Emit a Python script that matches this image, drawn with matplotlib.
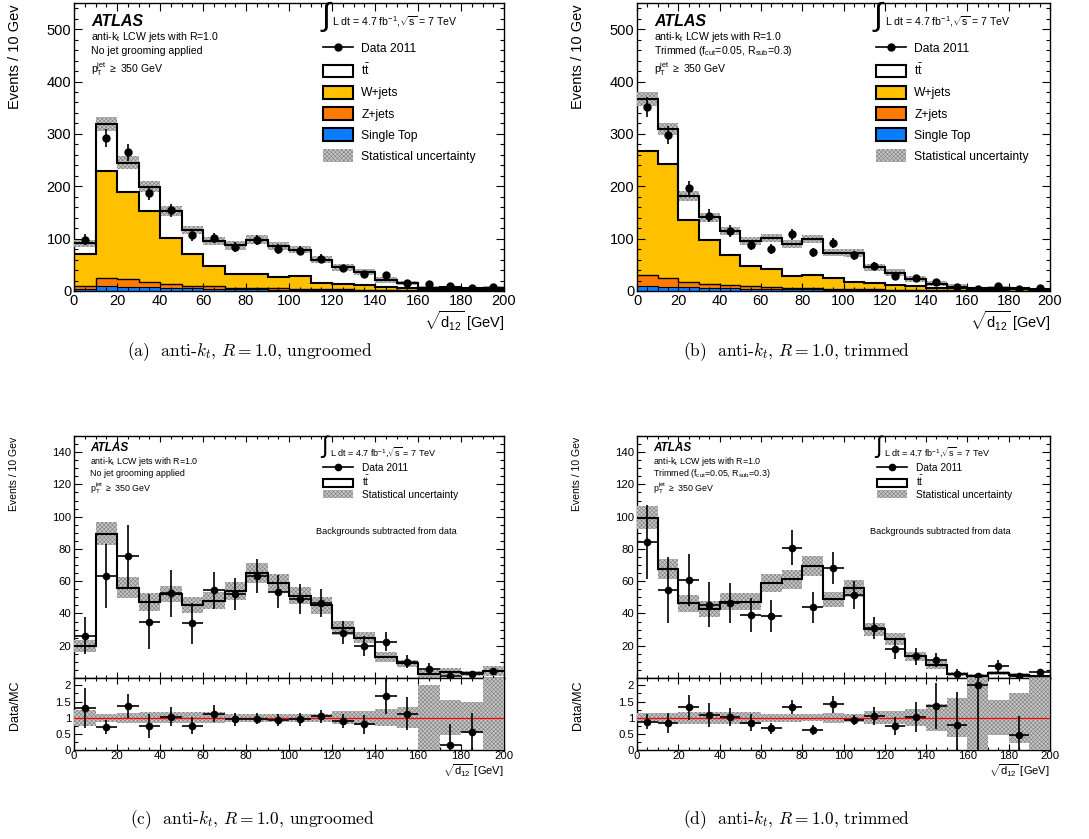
import numpy as np
import matplotlib.pyplot as plt
from matplotlib.patches import Patch
from matplotlib.lines import Line2D
from matplotlib.ticker import MultipleLocator, FixedLocator

plt.rcParams['font.family'] = ['Liberation Sans', 'DejaVu Sans']
plt.rcParams['mathtext.fontset'] = 'custom'
plt.rcParams['mathtext.rm'] = 'Liberation Sans'
plt.rcParams['mathtext.it'] = 'Liberation Sans:italic'
plt.rcParams['mathtext.bf'] = 'Liberation Sans:bold'
plt.rcParams['hatch.linewidth'] = 0.4

W, H = 1089, 839

# sqrt(d12) binning, 10 GeV bins
edges = np.arange(0, 201, 10)
centers = edges[:-1] + 5

# ---- top row: stacked MC + data, events / 10 GeV
# (a) ungroomed
ttbar_ungr = [20, 89.5, 56, 47, 52, 45, 48, 54, 65, 59, 51, 45, 31, 25, 13, 9, 2.5, 4, 3, 4.5]
wjets_ungr = [62, 205, 166, 134, 87, 61, 38, 27, 27, 22, 24, 12, 11, 10, 6, 4.5, 3, 2, 1.5, 1.5]
zjets_ungr = [5, 16, 15, 10, 8, 5, 5, 3, 3, 3, 2, 1.5, 2, 1, 1, 1, 0.5, 0.5, 0.2, 0.2]
stop_ungr = [4, 9, 8, 8, 6, 5, 4, 3, 3, 2, 2, 1.5, 1, 1, 1, 0.5, 0.5, 0.5, 0.3, 0.3]
mcstat_ungr = [7, 13, 12, 10.5, 10, 8, 8, 8, 8, 7, 6.5, 7, 7, 5.7, 6, 4, 4, 3, 3, 3]
data_ungr = [98, 292, 265, 187, 154, 106, 101, 84, 97, 80, 77, 62, 43, 32, 31, 15, 13, 9, 6, 7]
data_err_ungr = [10, 17, 16, 14, 12, 10, 10, 9, 10, 9, 9, 8, 7, 6, 6, 4, 4, 3, 2.5, 2.6]

# (b) trimmed
ttbar_trim = [99.4, 67.4, 46.2, 42.7, 47.2, 47.2, 58.8, 61.2, 69.5, 48.9, 55.5, 30.3, 24.1, 13.4, 8, 2.5, 1.4, 3.1, 1.9, 1]
wjets_trim = [237, 217, 117, 84, 57, 39, 35, 22, 25, 20, 14, 12, 9, 8, 4.5, 5, 3, 2, 2.5, 1.5]
zjets_trim = [20, 17, 11, 8, 6, 5, 3, 3, 2, 2, 1, 1.5, 1, 1, 0.5, 0.5, 0.5, 0.5, 0.2, 0.2]
stop_trim = [10, 8, 7, 6, 5, 4, 4, 3, 3, 2, 2, 1.5, 1, 1, 1, 0.5, 0.5, 0.5, 0.3, 0.3]
mcstat_trim = [13.7, 11.8, 9.6, 8, 7.7, 7.3, 7.7, 8, 7.3, 7, 7, 6.4, 6.4, 5.4, 5.4, 4, 3, 3, 2, 2]
data_trim = [352, 298, 196, 144, 115, 87, 80, 108, 74, 92, 68, 48, 29, 24, 17, 8, 4, 10, 3, 5]
data_err_trim = [19, 17, 14, 12, 11, 9, 9, 10, 9, 10, 8, 7, 5.4, 5, 4, 3, 2, 3, 1.7, 2.2]

# ---- bottom row: backgrounds subtracted from data
sub_ungr = [26.2, 63.3, 75.7, 35, 52.4, 33.8, 54.4, 52, 63.3, 53.6, 48.9, 46.6, 28.2, 19.8, 22.5, 10.1, 5.6, 1.4, 2.3, 4.3]
sub_err_ungr = [11.5, 20, 19, 17, 14.5, 12.5, 11.5, 10, 10.7, 10, 9.4, 8.5, 7.2, 6.2, 6, 4, 3.5, 2, 1.5, 2]
ttstat_ungr = [3.6, 7.3, 6.4, 5.4, 4.8, 5, 5.2, 5.8, 6, 5.5, 5.2, 5.2, 4.1, 3.6, 3, 2.4, 2.5, 2, 1.5, 3]
ratio_ungr = [1.29, 0.72, 1.36, 0.75, 1.03, 0.75, 1.13, 0.95, 0.97, 0.93, 0.95, 1.05, 0.90, 0.79, 1.67, 1.13, np.nan, 0.15, 0.55, np.nan]
ratio_err_ungr = [0.62, 0.22, 0.37, 0.38, 0.29, 0.26, 0.26, 0.2, 0.17, 0.18, 0.2, 0.2, 0.23, 0.28, 0.54, 0.52, np.nan, 0.67, 0.6, np.nan]
ratio_stat_ungr = [0.25, 0.13, 0.16, 0.17, 0.17, 0.17, 0.17, 0.13, 0.13, 0.13, 0.13, 0.13, 0.21, 0.22, 0.26, 0.33, 1.0, 0.55, 0.48, 1.3]

sub_trim = [84.3, 54.4, 60.8, 45.4, 46.4, 39, 38.6, 80.8, 43.7, 68, 51.3, 31.1, 17.9, 13.4, 11.1, 2.5, 1.4, 7.6, 1.4, 3.5]
sub_err_trim = [23, 20.5, 16, 14, 12.4, 10.3, 10, 10.7, 9.6, 10, 8.6, 7, 6.2, 5.4, 4.5, 3, 1.5, 3.7, 1, 2]
ttstat_trim = [7, 6.2, 5.5, 4.8, 5.3, 5.2, 5.5, 5.8, 6.2, 4.6, 5.4, 4, 3.9, 3, 2.6, 1.5, 1, 1, 1, 1]
ratio_trim = [0.88, 0.85, 1.32, 1.08, 1.01, 0.85, 0.67, 1.34, 0.62, 1.41, 0.93, 1.06, 0.74, 1.03, 1.36, 0.77, 2.01, np.nan, 0.46, np.nan]
ratio_err_trim = [0.23, 0.31, 0.38, 0.37, 0.28, 0.26, 0.17, 0.22, 0.15, 0.25, 0.16, 0.28, 0.27, 0.46, 0.7, 1.03, 2.2, np.nan, 0.6, np.nan]
ratio_stat_trim = [0.14, 0.15, 0.18, 0.18, 0.18, 0.18, 0.13, 0.13, 0.11, 0.15, 0.13, 0.21, 0.21, 0.26, 0.41, 0.6, 1.3, 0.55, 0.78, 1.3]

col_w = '#ffc000'
col_z = '#ff7a00'
col_st = '#0a7cff'
band_face = '#c6c6c6'
band_hatch = '#7c7c7c'
band_pattern = 'xxxxxxxx'

fig = plt.figure(figsize=(W / 100, H / 100), dpi=100)


def rect(x0, y0, x1, y1):
    # pixel box -> figure fraction
    return [x0 / W, 1 - y1 / H, (x1 - x0) / W, (y1 - y0) / H]


def ftext(px, py, s, **kw):
    kw.setdefault('va', 'center')
    return fig.text(px / W, 1 - py / H, s, **kw)


def style_ticks(ax, size, major, minor):
    ax.tick_params(which='both', direction='in', top=True, right=True, labelsize=size, pad=2)
    ax.tick_params(which='major', length=major, width=0.8)
    ax.tick_params(which='minor', length=minor, width=0.8)
    for s in ax.spines.values():
        s.set_linewidth(1.0)


def band(ax, centre, err):
    centre = np.asarray(centre, float)
    err = np.asarray(err, float)
    ax.bar(centers, 2 * err, bottom=centre - err, width=10, facecolor=band_face,
           edgecolor=band_hatch, hatch=band_pattern, linewidth=0, zorder=3)


def top_panel(box, tt, w, z, st, stat, data, derr, grooming, px0):
    ax = fig.add_axes(rect(*box))
    c_st = np.array(st, float)
    c_z = c_st + np.array(z)
    c_w = c_z + np.array(w)
    c_tot = c_w + np.array(tt)
    ax.stairs(c_tot, edges, fill=True, color='white', zorder=1)
    ax.stairs(c_w, edges, fill=True, color=col_w, zorder=1)
    ax.stairs(c_z, edges, fill=True, color=col_z, zorder=1)
    ax.stairs(c_st, edges, fill=True, color=col_st, zorder=1)
    band(ax, c_tot, stat)
    ax.stairs(c_st, edges, baseline=None, color='k', lw=0.8, zorder=4)
    ax.stairs(c_z, edges, baseline=None, color='k', lw=1.0, zorder=4)
    ax.stairs(c_w, edges, baseline=None, color='k', lw=1.5, zorder=4)
    ax.stairs(c_tot, edges, baseline=None, color='k', lw=1.5, zorder=4)
    ax.errorbar(centers, data, yerr=derr, fmt='o', color='k', ms=5, elinewidth=1.2,
                capsize=0, zorder=5)
    ax.set_xlim(0, 200)
    ax.set_ylim(0, 550)
    ax.xaxis.set_major_locator(MultipleLocator(20))
    ax.xaxis.set_minor_locator(MultipleLocator(5))
    ax.yaxis.set_major_locator(MultipleLocator(100))
    ax.yaxis.set_minor_locator(MultipleLocator(20))
    style_ticks(ax, 10.5, 6, 3)

    handles = [Line2D([], [], color='k', marker='o', ms=5, lw=1.2),
               Patch(facecolor='white', edgecolor='k', lw=1.5),
               Patch(facecolor=col_w, edgecolor='k', lw=1.5),
               Patch(facecolor=col_z, edgecolor='k', lw=1.5),
               Patch(facecolor=col_st, edgecolor='k', lw=1.5),
               Patch(facecolor=band_face, edgecolor=band_hatch, hatch=band_pattern, lw=0)]
    labels = ['Data 2011', r't$\bar{\mathrm{t}}$', 'W+jets', 'Z+jets', 'Single Top',
              'Statistical uncertainty']
    x0, x1 = box[0], box[2]
    ax.legend(handles, labels, loc='upper left', frameon=False, fontsize=8.7,
              bbox_to_anchor=((px0 - x0) / (x1 - x0), 0.866), borderpad=0, borderaxespad=0,
              handlelength=2.5, handleheight=1.25, handletextpad=0.66, labelspacing=0.64)

    ftext(x0 + 17, 22, 'ATLAS', fontsize=11.5, fontweight='bold', fontstyle='italic')
    ftext(x0 + 17, 37, r'anti-k$_\mathrm{t}$ LCW jets with R=1.0', fontsize=7.6)
    ftext(x0 + 17, 51, grooming, fontsize=7.6)
    ftext(x0 + 17, 69, r'p$_\mathrm{T}^\mathrm{jet}$ $\geq$ 350 GeV', fontsize=7.6)
    ftext(px0 - 2, 17, '\u222b', fontsize=23)
    ftext(px0 + 9, 22, r'L dt = 4.7 fb$^{\mathrm{-1}}$,$\sqrt{\mathrm{s}}$ = 7 TeV', fontsize=7.6)
    ftext(x0 - 59, 4, 'Events / 10 Gev', fontsize=10.5, rotation=90, ha='center', va='top')
    ftext(x1 + 1, 321, r'$\sqrt{\mathrm{d}_{12}}$ [GeV]', fontsize=10.5, ha='right')
    return ax


def bottom_panel(box, tt, stat, sub, suberr, ratio, rerr, rstat, grooming, px0):
    x0, y0, x1, y_split, y1 = box
    ax = fig.add_axes(rect(x0, y0, x1, y_split))
    band(ax, tt, stat)
    ax.stairs(tt, edges, baseline=None, color='k', lw=1.5, zorder=4)
    ax.errorbar(centers, sub, xerr=5, yerr=suberr, fmt='o', color='k', ms=4.5,
                elinewidth=1.2, capsize=0, zorder=5)
    ax.set_xlim(0, 200)
    ax.set_ylim(0, 150)
    ax.xaxis.set_major_locator(MultipleLocator(20))
    ax.xaxis.set_minor_locator(MultipleLocator(5))
    ax.yaxis.set_major_locator(FixedLocator([20, 40, 60, 80, 100, 120, 140]))
    ax.yaxis.set_minor_locator(MultipleLocator(5))
    style_ticks(ax, 8.2, 6, 3)
    ax.tick_params(axis='x', which='major', length=4)
    ax.tick_params(axis='x', which='minor', length=2)
    ax.tick_params(labelbottom=False)

    handles = [Line2D([], [], color='k', marker='o', ms=4.5, lw=1.2),
               Patch(facecolor='white', edgecolor='k', lw=1.5),
               Patch(facecolor=band_face, edgecolor=band_hatch, hatch=band_pattern, lw=0)]
    labels = ['Data 2011', r't$\bar{\mathrm{t}}$', 'Statistical uncertainty']
    ax.legend(handles, labels, loc='upper left', frameon=False, fontsize=7.3,
              bbox_to_anchor=((px0 - x0) / (x1 - x0), 0.89), borderpad=0, borderaxespad=0,
              handlelength=3.0, handleheight=0.85, handletextpad=0.8, labelspacing=0.15)

    ftext(x0 + 16, 448, 'ATLAS', fontsize=8.5, fontweight='bold', fontstyle='italic')
    ftext(x0 + 16, 461, r'anti-k$_\mathrm{t}$ LCW jets with R=1.0', fontsize=6.4)
    ftext(x0 + 16, 473, grooming, fontsize=6.4)
    ftext(x0 + 16, 488, r'p$_\mathrm{T}^\mathrm{jet}$ $\geq$ 350 GeV', fontsize=6.4)
    ftext(px0 - 2, 447, '\u222b', fontsize=17)
    ftext(px0 + 7, 452, r'L dt = 4.7 fb$^{\mathrm{-1}}$,$\sqrt{\mathrm{s}}$ = 7 TeV', fontsize=6.5)
    ftext(px0 - 7, 531, 'Backgrounds subtracted from data', fontsize=6.6)
    ftext(x0 - 60, 437, 'Events / 10 Gev', fontsize=7.5, rotation=90, ha='center', va='top')

    # ratio panel
    rx = fig.add_axes(rect(x0, y_split, x1, y1))
    band(rx, np.ones(len(centers)), rstat)
    rx.axhline(1, color='red', lw=0.9, zorder=4)
    rx.errorbar(centers, ratio, xerr=5, yerr=rerr, fmt='o', color='k', ms=4.5,
                elinewidth=1.2, capsize=0, zorder=5)
    rx.set_xlim(0, 200)
    rx.set_ylim(0, 2.23)
    rx.xaxis.set_major_locator(MultipleLocator(20))
    rx.xaxis.set_minor_locator(MultipleLocator(5))
    rx.yaxis.set_major_locator(FixedLocator([0, 0.5, 1, 1.5, 2]))
    rx.yaxis.set_minor_locator(MultipleLocator(0.25))
    rx.yaxis.set_major_formatter(plt.FuncFormatter(lambda v, p: '%g' % v))
    style_ticks(rx, 8.2, 6, 3)
    rx.tick_params(axis='x', which='major', length=4, pad=1)
    rx.tick_params(axis='x', which='minor', length=2)
    ftext(x0 - 59, 680, 'Data/MC', fontsize=9, rotation=90, ha='center', va='top')
    ftext(x1, 771, r'$\sqrt{\mathrm{d}_{12}}$ [GeV]', fontsize=8.0, ha='right')
    return ax, rx


top_panel((74, 3, 504, 291), ttbar_ungr, wjets_ungr, zjets_ungr, stop_ungr, mcstat_ungr,
          data_ungr, data_err_ungr, 'No jet grooming applied', 323)
top_panel((637, 3, 1050, 291), ttbar_trim, wjets_trim, zjets_trim, stop_trim, mcstat_trim,
          data_trim, data_err_trim,
          r'Trimmed (f$_\mathrm{cut}$=0.05, R$_\mathrm{sub}$=0.3)', 876)
bottom_panel((74, 436, 504, 678, 750), ttbar_ungr, ttstat_ungr, sub_ungr, sub_err_ungr,
             ratio_ungr, ratio_err_ungr, ratio_stat_ungr, 'No jet grooming applied', 323)
bottom_panel((637, 436, 1050, 678, 750), ttbar_trim, ttstat_trim, sub_trim, sub_err_trim,
             ratio_trim, ratio_err_trim, ratio_stat_trim,
             r'Trimmed (f$_\mathrm{cut}$=0.05, R$_\mathrm{sub}$=0.3)', 877)

# sub-figure captions
cap = dict(fontsize=12.5, ha='center', family=['cmr10', 'DejaVu Serif'], math_fontfamily='cm')
ftext(250, 352, r'(a)  anti-$k_t$, $R = 1.0$, ungroomed', **cap)
ftext(797, 352, r'(b)  anti-$k_t$, $R = 1.0$, trimmed', **cap)
ftext(252, 820, r'(c)  anti-$k_t$, $R = 1.0$, ungroomed', **cap)
ftext(797, 820, r'(d)  anti-$k_t$, $R = 1.0$, trimmed', **cap)

fig.savefig('out.png', dpi=100)
